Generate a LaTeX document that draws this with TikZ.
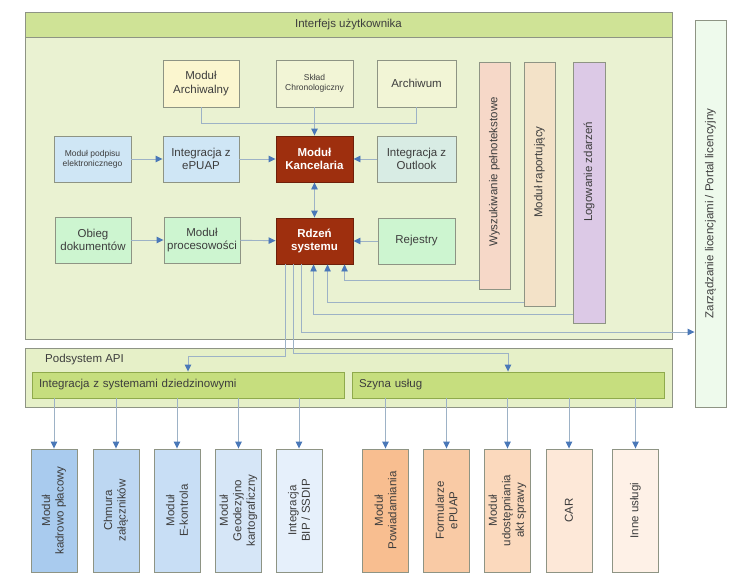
\documentclass[tikz,border=0pt]{standalone}
\usepackage{fontspec}
\setmainfont{Liberation Sans}
\usetikzlibrary{arrows.meta}
\definecolor{hdr}{HTML}{CFE396}
\definecolor{bodyg}{HTML}{EAF2D2}
\definecolor{apig}{HTML}{E6F0C8}
\definecolor{barg}{HTML}{C6DE7E}
\definecolor{barb}{HTML}{8FAA4C}
\definecolor{bord}{HTML}{8E9484}
\definecolor{lnc}{HTML}{9DB2C6}
\definecolor{arrc}{HTML}{4A78B8}
\definecolor{redb}{HTML}{9E2F0E}
\definecolor{redd}{HTML}{6E200A}
\definecolor{txt}{HTML}{3D3D3D}
\definecolor{cArch}{HTML}{FBF6CF}
\definecolor{cSkl}{HTML}{F2F5D6}
\definecolor{cBlue}{HTML}{CFE6F5}
\definecolor{cOut}{HTML}{D8ECE4}
\definecolor{cGreen}{HTML}{CDF5D0}
\definecolor{cWys}{HTML}{F6D8C8}
\definecolor{cRap}{HTML}{F3E2C8}
\definecolor{cLog}{HTML}{DCC9E6}
\definecolor{cZar}{HTML}{EEFAEC}
\definecolor{bA}{HTML}{A9CBEE}
\definecolor{bB}{HTML}{BDD7F2}
\definecolor{bC}{HTML}{C8DEF5}
\definecolor{bD}{HTML}{D6E6F7}
\definecolor{bE}{HTML}{E6F0FB}
\definecolor{oA}{HTML}{F8BE90}
\definecolor{oB}{HTML}{F9CAA5}
\definecolor{oC}{HTML}{FBD9BD}
\definecolor{oD}{HTML}{FDE8D8}
\definecolor{oE}{HTML}{FEF1E7}
\begin{document}
\begin{tikzpicture}[x=1pt,y=-1pt,
  fnt/.style={font=\fontsize{11.5}{13.5}\selectfont},
  sfnt/.style={font=\fontsize{8.5}{10}\selectfont},
  bx/.style={draw=bord, line width=0.9pt, inner sep=2pt, align=center, text=txt, fnt, minimum width=77pt, minimum height=46pt},
  core/.style={bx, fill=redb, draw=redd, text=white, font=\fontsize{11.5}{13.5}\selectfont\bfseries},
  vbox/.style={draw=bord, line width=0.9pt, minimum width=31pt},
  btm/.style={draw=bord, line width=0.9pt, minimum width=46pt, minimum height=123pt},
  vt/.style={rotate=90, align=center, text=txt, fnt},
  ln/.style={draw=lnc, line width=0.9pt},
  arr/.style={-{Triangle[length=7pt,width=6.5pt,color=arrc]}},
  arrs/.style={{Triangle[length=7pt,width=6.5pt,color=arrc]}-{Triangle[length=7pt,width=6.5pt,color=arrc]}},
  bar/.style={draw=barb, fill=barg, line width=0.9pt, minimum height=26pt, text width=298pt, inner xsep=7pt, align=left, text=txt, fnt}
]
\useasboundingbox (0,0) rectangle (749,584);

% user interface frame
\node[draw=bord, fill=bodyg, line width=0.9pt, minimum width=647pt, minimum height=327pt] (ui) at (348.5,175.5) {};
\node[draw=bord, fill=hdr, line width=0.9pt, minimum width=647pt, minimum height=25pt, text=txt, fnt] (uih) at (348.5,24.5) {Interfejs użytkownika};

% licence box
\node[draw=bord, fill=cZar, line width=0.9pt, minimum width=31pt, minimum height=387pt,
  label={[vt]center:Zarządzanie licencjami / Portal licencyjny}] (zar) at (710.5,213.5) {};

% top row
\node[bx, fill=cArch, minimum width=76pt, minimum height=47pt] (arch) at (201,83.5) {Moduł\\Archiwalny};
\node[bx, fill=cSkl, minimum height=47pt, sfnt] (sklad) at (314.5,83.5) {Skład\\Chronologiczny};
\node[bx, fill=cSkl, minimum width=79pt, minimum height=47pt] (archw) at (416.5,83.5) {Archiwum};

% middle row
\node[bx, fill=cBlue, sfnt] (podpis) at (92.5,159) {Moduł podpisu\\elektronicznego};
\node[bx, fill=cBlue, minimum width=76pt] (epuap) at (201,159) {Integracja z\\ePUAP};
\node[core] (kanc) at (314.5,159) {Moduł\\Kancelaria};
\node[bx, fill=cOut, minimum width=79pt] (outl) at (416.5,159) {Integracja z\\Outlook};

% lower row
\node[bx, fill=cGreen, minimum width=76pt] (obieg) at (93,240) {Obieg\\dokumentów};
\node[bx, fill=cGreen, minimum width=76pt] (proc) at (202,240) {Moduł\\procesowości};
\node[core] (rdzen) at (314.5,241) {Rdzeń\\systemu};
\node[bx, fill=cGreen] (rej) at (416.5,241) {Rejestry};

% vertical modules
\node[vbox, fill=cWys, minimum height=227pt] (wys) at (494.5,175.5) {};
\node[vbox, fill=cRap, minimum height=244pt] (rap) at (539.5,184) {};
\node[vbox, fill=cLog, minimum width=32pt, minimum height=261pt] (log) at (589,192.5) {};
\coordinate (ty) at (0,172);
\node[vt] (wyst) at (wys |- ty) {Wyszukiwanie pełnotekstowe};
\node[vt] (rapt) at (rap |- ty) {Moduł raportujący};
\node[vt] (logt) at (log |- ty) {Logowanie zdarzeń};

% API subsystem
\node[draw=bord, fill=apig, line width=0.9pt, minimum width=647pt, minimum height=59pt] (api) at (348.5,377.5) {};
\node[anchor=west, text=txt, fnt, inner sep=0pt] (apit) at (45,360) {Podsystem API};
\node[bar] (integ) at (188,385) {Integracja z systemami dziedzinowymi};
\node[bar] (szyna) at (508,385) {Szyna usług};

% bottom modules
\node[btm, fill=bA, label={[vt]center:Moduł\\kadrowo płacowy}] (b1) at (54,510.5) {};
\node[btm, fill=bB, label={[vt]center:Chmura\\załączników}] (b2) at (116,510.5) {};
\node[btm, fill=bC, label={[vt]center:Moduł\\E-kontrola}] (b3) at (177,510.5) {};
\node[btm, fill=bD, label={[vt]center:Moduł\\Geodezyjno\\kartograficzny}] (b4) at (238.5,510.5) {};
\node[btm, fill=bE, label={[vt]center:Integracja\\BIP / SSDIP}] (b5) at (299,510.5) {};
\node[btm, fill=oA, label={[vt]center:Moduł\\Powiadamiania}] (b6) at (385.5,510.5) {};
\node[btm, fill=oB, label={[vt]center:Formularze\\ePUAP}] (b7) at (446.5,510.5) {};
\node[btm, fill=oC, label={[vt]center:Moduł\\udostępniania\\akt sprawy}] (b8) at (507.5,510.5) {};
\node[btm, fill=oD, label={[vt]center:CAR}] (b9) at (569,510.5) {};
\node[btm, fill=oE, label={[vt]center:Inne usługi}] (b10) at (635.5,510.5) {};

% connectors, top area
\draw[ln] (arch.south) -- ++(0,16) -| (archw.south);
\draw[ln,arr] (sklad) -- (kanc);
\draw[ln,arr] (podpis) -- (epuap);
\draw[ln,arr] (epuap) -- (kanc);
\draw[ln,arr] (outl) -- (kanc);
\draw[ln,arrs] (kanc) -- (rdzen);
\draw[ln,arr] (obieg) -- (proc);
\draw[ln,arr] (proc) -- (rdzen);
\draw[ln,arr] (rej) -- (rdzen);

\coordinate (r1) at ([xshift=10pt]rdzen.south west);
\coordinate (r2) at ([xshift=18pt]rdzen.south west);
\coordinate (r3) at ([xshift=26pt]rdzen.south west);
\coordinate (r4) at ([xshift=38pt]rdzen.south west);
\coordinate (r5) at ([xshift=52pt]rdzen.south west);
\coordinate (r6) at ([xshift=69pt]rdzen.south west);
\coordinate (yW) at (0,280);
\coordinate (yR) at (0,302);
\coordinate (yL) at (0,314);
\coordinate (yZ) at (0,332);
\coordinate (jA) at (188,356);
\coordinate (jB) at (508,353);

\draw[ln,arr] (wys.west |- yW) -| (r6);
\draw[ln,arr] (rap.west |- yR) -| (r5);
\draw[ln,arr] (log.west |- yL) -| (r4);
\draw[ln,arr] (r3) |- (zar.west |- yZ);
\draw[ln,arr] (r1) |- (jA) -- (jA |- integ.north);
\draw[ln,arr] (r2) |- (jB) -- (jB |- szyna.north);

% connectors, bottom area
\foreach \b in {b1,b2,b3,b4,b5}{
  \draw[ln,arr] (integ.south -| \b) -- (\b.north);
}
\foreach \b in {b6,b7,b8,b9,b10}{
  \draw[ln,arr] (szyna.south -| \b) -- (\b.north);
}
\end{tikzpicture}
\end{document}
